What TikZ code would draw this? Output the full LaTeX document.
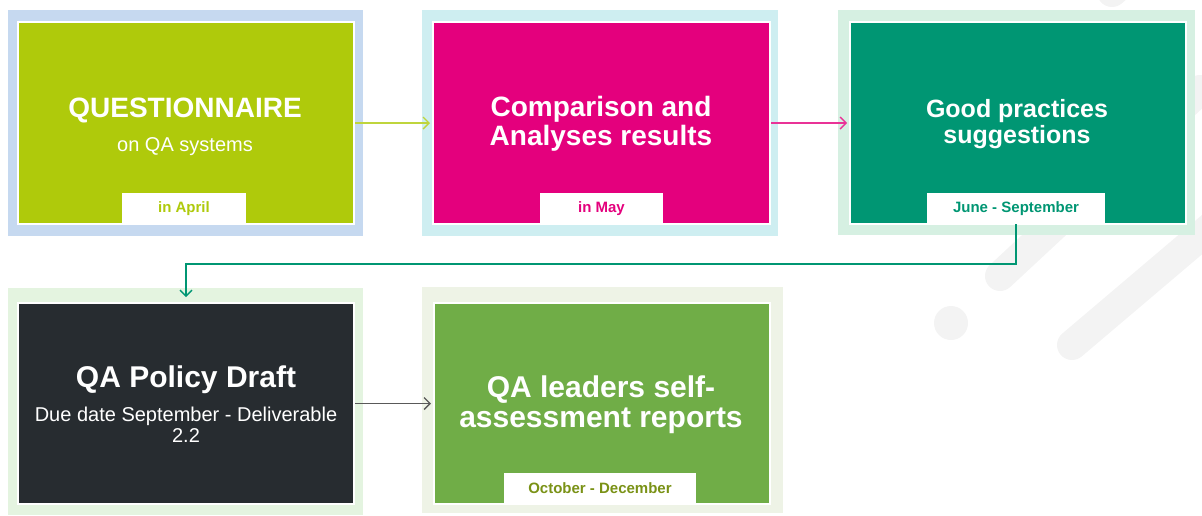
\documentclass[tikz,border=0pt]{standalone}
\usepackage{fontspec}
\setmainfont{Liberation Sans}
\usetikzlibrary{arrows.meta}

\definecolor{qlime}{RGB}{175,202,11}
\definecolor{qlimeframe}{RGB}{198,217,240}
\definecolor{qmagenta}{RGB}{228,0,125}
\definecolor{qmagentaframe}{RGB}{206,238,241}
\definecolor{qteal}{RGB}{0,150,115}
\definecolor{qtealframe}{RGB}{214,240,226}
\definecolor{qdark}{RGB}{39,44,48}
\definecolor{qdarkframe}{RGB}{228,244,224}
\definecolor{qgreen}{RGB}{112,173,71}
\definecolor{qgreenframe}{RGB}{238,243,230}
\definecolor{qolive}{RGB}{122,146,22}
\definecolor{qdeco}{RGB}{243,243,243}

\begin{document}
\begin{tikzpicture}[x=1pt, y=-1pt,
		stage/.style={draw=white, line width=2pt, minimum width=336pt, minimum height=202pt, inner sep=0pt},
		steptitle/.style={text=white, font=\fontsize{28}{29}\selectfont\bfseries, align=center, anchor=base, inner sep=0pt},
		stepsub/.style={text=white, font=\fontsize{20}{21}\selectfont, align=center, anchor=base, inner sep=0pt},
		datetab/.style={fill=white, minimum height=31pt, anchor=south, inner sep=0pt, font=\fontsize{15}{15}\selectfont\bfseries},
		flow/.style={line width=1.4pt, -{Straight Barb[length=6pt, width=12pt]}}]
	\useasboundingbox (0,0) rectangle (1202,515);

	% background marks
	\draw [qdeco, line width=30pt, line cap=round] (1000,276) -- (1200,90);
	\draw [qdeco, line width=30pt, line cap=round] (1072,345) -- (1290,160);
	\draw [qdeco, line width=30pt, line cap=round] (1112,-8) -- (1300,-170);
	\fill [qdeco] (951,323) circle[radius=17pt];

	% frames
	\fill [qlimeframe] (8,10) rectangle (363,236);
	\fill [qmagentaframe] (422,10) rectangle (778,236);
	\fill [qtealframe] (838,10) rectangle (1195,235);
	\fill [qdarkframe] (8,288) rectangle (363,515);
	\fill [qgreenframe] (422,287) rectangle (783,513);

	% first row (base of a two-line text is its last line)
	\node [stage, fill=qlime] (quest) at (186,123) {};
	\node [datetab, text=qlime, minimum width=124pt] (questdate) at (184,224) {in April};
	\node [steptitle] (questtitle) at (185,117) {QUESTIONNAIRE};
	\node [stepsub] (questsub) at (185,151) {on QA systems};

	\node [stage, fill=qmagenta, minimum width=337pt] (comp) at (601.5,123) {};
	\node [datetab, text=qmagenta, minimum width=123pt] (compdate) at (601.5,224) {in May};
	\node [steptitle] (comptitle) at (601,145) {Comparison and\\Analyses results};

	\node [stage, fill=qteal] (good) at (1018,123) {};
	\node [datetab, text=qteal, minimum width=178pt] (gooddate) at (1016,224) {June - September};
	\node [steptitle, font=\fontsize{25}{26}\selectfont\bfseries] (goodtitle) at (1017,143) {Good practices\\suggestions};

	% second row
	\node [stage, fill=qdark, minimum height=201pt] (policy) at (186,403.5) {};
	\node [steptitle, font=\fontsize{30}{31}\selectfont\bfseries] (policytitle) at (186,387) {QA Policy Draft};
	\node [stepsub] (policysub) at (186,442) {Due date September - Deliverable\\2.2};

	\node [stage, fill=qgreen, minimum height=201pt] (leaders) at (602,403.5) {};
	\node [datetab, text=qolive, minimum width=192pt] (leadersdate) at (600,504) {October - December};
	\node [steptitle, font=\fontsize{30}{29.5}\selectfont\bfseries] (leaderstitle) at (601,427) {QA leaders self-\\assessment reports};

	% connectors
	\draw [flow, qlime!80!white, shorten >=2pt] (quest) -- (comp);
	\draw [flow, qmagenta!80!white, shorten >=2pt] (comp) -- (good);
	\draw [flow, qteal, shorten >=5pt] (gooddate.south) -- ++(0,40) -| (policy.north);
	\draw [flow, black!65, shorten >=2pt] (policy) -- (leaders);
\end{tikzpicture}
\end{document}
